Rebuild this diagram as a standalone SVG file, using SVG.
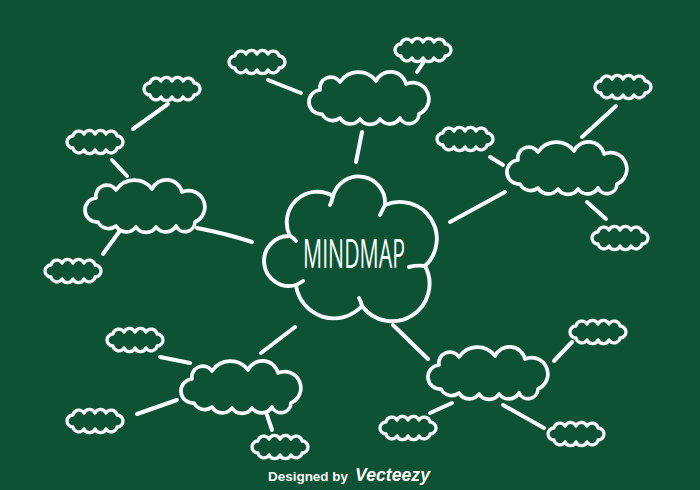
<svg xmlns="http://www.w3.org/2000/svg" xmlns:xlink="http://www.w3.org/1999/xlink" width="700" height="490" viewBox="0 0 700 490">
<style>
.ln{stroke:#ffffff;stroke-width:4;stroke-linecap:round;fill:none}
.cl{stroke:#ffffff;fill:none;stroke-linecap:round;stroke-linejoin:round}
.sm{stroke-width:3.3}
.md{stroke-width:3.7}
.bg{stroke-width:3.9}
.title{font-family:"Open Sans","DejaVu Sans",sans-serif;font-weight:normal;font-size:40px;fill:#ffffff}
.foot{font-family:"Liberation Sans",Arial,sans-serif;font-weight:bold;fill:#ffffff}
</style>
<defs>
<path id="sc" class="cl sm" d="M8,18 A6,6 0 0 1 8,6 A6,6 0 0 1 19,4 A6,6 0 0 1 30,4 A6,6 0 0 1 41,4 A6,6 0 0 1 52,6 A6,6 0 0 1 52,18 A6,6 0 0 1 41,20 A6,6 0 0 1 30,20 A6,6 0 0 1 19,20 A6,6 0 0 1 8,18 Z"/>
<path id="mc" class="cl md" d="M13,42 A12,12 0 0 1 11,18 A11,11 0 0 1 31,10 A22,22 0 0 1 67,9 A16,16 0 0 1 97,12 A15,15 0 0 1 110,42 A10,10 0 0 1 91,46 A12,12 0 0 1 71,47 A12,12 0 0 1 51,47 A12,12 0 0 1 31,46 A12,12 0 0 1 13,42 Z"/>
</defs>
<rect x="0" y="0" width="700" height="490" fill="#0d5234"/>
<g id="connectors">
<line class="ln" x1="362" y1="132" x2="356" y2="162"/>
<line class="ln" x1="450" y1="222" x2="505" y2="192"/>
<path class="ln" d="M197,228 Q228,234 252,242"/>
<line class="ln" x1="295" y1="327" x2="261" y2="353"/>
<line class="ln" x1="393" y1="325" x2="428" y2="359"/>
<line class="ln" x1="268" y1="80" x2="301" y2="93"/>
<line class="ln" x1="423" y1="63" x2="417" y2="72"/>
<line class="ln" x1="133" y1="129" x2="168" y2="104"/>
<line class="ln" x1="112" y1="160" x2="127" y2="176"/>
<line class="ln" x1="119" y1="232" x2="103" y2="254"/>
<line class="ln" x1="490" y1="157" x2="503" y2="165"/>
<line class="ln" x1="616" y1="106" x2="582" y2="137"/>
<line class="ln" x1="587" y1="202" x2="606" y2="219"/>
<line class="ln" x1="160" y1="357" x2="190" y2="363"/>
<line class="ln" x1="137" y1="414" x2="177" y2="400"/>
<line class="ln" x1="267" y1="415" x2="272" y2="430"/>
<line class="ln" x1="554" y1="361" x2="572" y2="342"/>
<line class="ln" x1="452" y1="403" x2="430" y2="413"/>
<line class="ln" x1="503" y1="405" x2="544" y2="428"/>
</g>
<g id="center">
<path class="cl bg" d="M296,285 A25,25 0 1 1 290,236 A30.6,30.6 0 0 1 333,196 A26.5,26.5 0 0 1 385,205 A37,37 0 0 1 425,266 A37.4,37.4 0 0 1 362,306 A38.2,38.2 0 0 1 296,285 Z"/>
<path class="cl bg" d="M296,285 q4,-2 7,-4 M290,236 q4,2 6,5 M333,196 q-1,5 -3,9 M385,205 q-3,6 -5,10 M425,266 q-8,-1 -16,1 M362,306 q-1,-5 -3,-8"/>
<text class="title" x="354" y="268" text-anchor="middle" textLength="102" lengthAdjust="spacingAndGlyphs">MINDMAP</text>
</g>
<g id="top"><use xlink:href="#mc" href="#mc" x="309" y="72"/></g>
<g id="right"><use xlink:href="#mc" href="#mc" x="507" y="142"/></g>
<g id="left"><use xlink:href="#mc" href="#mc" x="85" y="180"/></g>
<g id="bottom-left"><use xlink:href="#mc" href="#mc" x="181" y="361"/></g>
<g id="bottom-right"><use xlink:href="#mc" href="#mc" x="428" y="347"/></g>
<g id="s1"><use xlink:href="#sc" href="#sc" x="227" y="50"/></g>
<g id="s2"><use xlink:href="#sc" href="#sc" x="393" y="38"/></g>
<g id="s3"><use xlink:href="#sc" href="#sc" x="142" y="77"/></g>
<g id="s4"><use xlink:href="#sc" href="#sc" x="65" y="130"/></g>
<g id="s5"><use xlink:href="#sc" href="#sc" x="43" y="259"/></g>
<g id="s6"><use xlink:href="#sc" href="#sc" x="435" y="127"/></g>
<g id="s7"><use xlink:href="#sc" href="#sc" x="593" y="75"/></g>
<g id="s8"><use xlink:href="#sc" href="#sc" x="590" y="226"/></g>
<g id="s9"><use xlink:href="#sc" href="#sc" x="105" y="328"/></g>
<g id="s10"><use xlink:href="#sc" href="#sc" x="65" y="409"/></g>
<g id="s11"><use xlink:href="#sc" href="#sc" x="250" y="435"/></g>
<g id="s12"><use xlink:href="#sc" href="#sc" x="568" y="320"/></g>
<g id="s13"><use xlink:href="#sc" href="#sc" x="378" y="416"/></g>
<g id="s14"><use xlink:href="#sc" href="#sc" x="546" y="422"/></g>
<g id="footer">
<text class="foot" x="268" y="481" font-size="13.5" textLength="80" lengthAdjust="spacingAndGlyphs">Designed by</text>
<text class="foot" x="355" y="481" font-size="18" font-style="italic" textLength="75" lengthAdjust="spacingAndGlyphs">Vecteezy</text>
</g>
</svg>
